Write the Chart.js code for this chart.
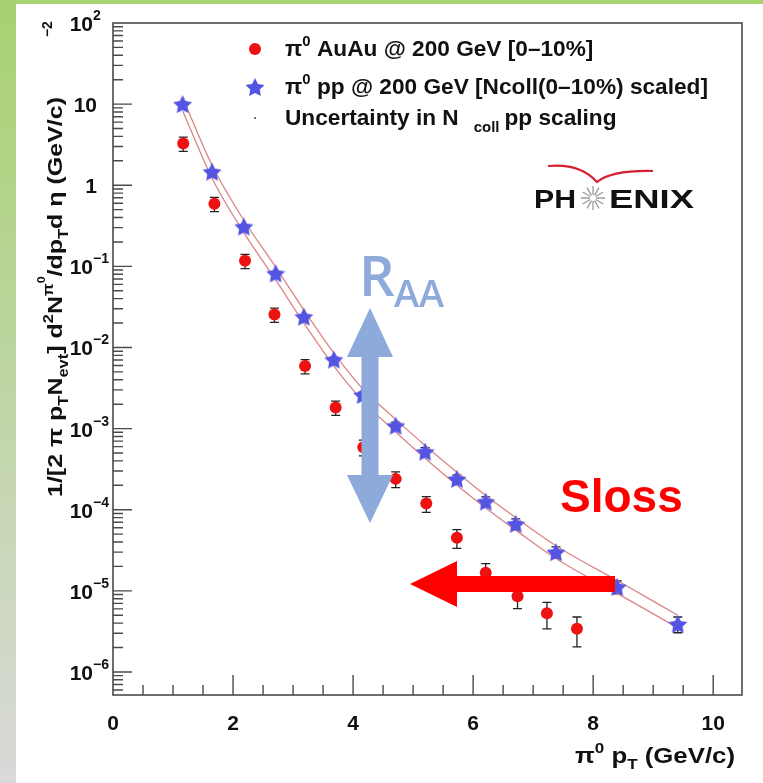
<!DOCTYPE html>
<html lang="en">
<head>
<meta charset="UTF-8">
<title>PHENIX pi0 spectra AuAu vs pp</title>
<script src="https://cdn.jsdelivr.net/npm/chart.js"></script>
<style>
  html, body { margin: 0; padding: 0; background: #fff; }
  canvas { display: block; }
</style>
</head>
<body>
<canvas id="spectrum" width="763" height="783"></canvas>
<script>
// pi0 AuAu @ 200 GeV, 0-10% central
const ptAuAu    = [1.17, 1.69, 2.2, 2.69, 3.2, 3.71, 4.17, 4.71, 5.22, 5.73, 6.21, 6.74, 7.23, 7.73];
const yieldAuAu = [3.27, 0.59, 0.117, 0.0255, 0.0059, 0.00182, 5.9e-4, 2.4e-4, 1.19e-4, 4.5e-5, 1.67e-5, 8.6e-6, 5.3e-6, 3.4e-6];
const errAuAu   = [0.2, 0.2, 0.2, 0.2, 0.2, 0.2, 0.22, 0.22, 0.22, 0.26, 0.3, 0.3, 0.36, 0.4];

// pi0 pp @ 200 GeV scaled by Ncoll(0-10%)
const ptPP    = [1.16, 1.65, 2.18, 2.71, 3.18, 3.68, 4.16, 4.71, 5.2, 5.73, 6.21, 6.71, 7.38, 8.4, 9.41];
const yieldPP = [10, 1.47, 0.31, 0.082, 0.024, 0.0071, 0.0026, 0.00109, 5.2e-4, 2.4e-4, 1.26e-4, 6.7e-5, 3.0e-5, 1.12e-5, 3.9e-6];
const errPP   = [0.05, 0.05, 0.05, 0.05, 0.05, 0.06, 0.08, 0.1, 0.12, 0.12, 0.14, 0.15, 0.16, 0.18, 0.22];

// Ncoll scaling uncertainty band
const bandHigh = [12.0, 1.76, 0.37, 0.098, 0.029, 0.0085, 0.0031, 0.0013, 6.2e-4, 2.9e-4, 1.5e-4, 8.0e-5, 3.6e-5, 1.34e-5, 5.0e-6];
const bandLow  = [8.3, 1.22, 0.26, 0.068, 0.020, 0.0059, 0.0022, 9.1e-4, 4.3e-4, 2.0e-4, 1.05e-4, 5.6e-5, 2.5e-5, 9.3e-6, 3.5e-6];

// axis ticks
const xTickValues = [0, 2, 4, 6, 8, 10];
const xTickLabels = ['0', '2', '4', '6', '8', '10'];
const yTickValues = [1e-6, 1e-5, 1e-4, 1e-3, 1e-2, 1e-1, 1, 10, 100];
const yTickBases  = ['10', '10', '10', '10', '10', '10', '1', '10', '10'];
const yTickExps   = ['\u22126', '\u22125', '\u22124', '\u22123', '\u22122', '\u22121', '', '', '2'];

const FONT = '"Liberation Sans", Arial, sans-serif';

function makeStar(r, color) {
  const c = document.createElement('canvas');
  const s = Math.ceil(r * 2) + 2;
  c.width = s; c.height = s;
  const g = c.getContext('2d');
  g.fillStyle = color;
  g.beginPath();
  for (let i = 0; i < 10; i++) {
    const rad = i % 2 === 0 ? r : r * 0.5;
    const ang = -Math.PI / 2 + i * Math.PI / 5;
    const px = s / 2 + rad * Math.cos(ang), py = s / 2 + 1 + rad * Math.sin(ang);
    if (i === 0) g.moveTo(px, py); else g.lineTo(px, py);
  }
  g.closePath();
  g.fill();
  return c;
}
const starImg = makeStar(10, '#5454e4');

// rich text: k = n (normal), sup, sub, sup2 (superscript of superscript)
function segFont(k, size) {
  const fs = k === 'sup2' ? size * 0.5 : (k && k !== 'n') ? size * 0.66 : size;
  return 'bold ' + fs.toFixed(2) + 'px ' + FONT;
}
function segShift(k, size) {
  if (k === 'sup') return -size * 0.45;
  if (k === 'sup2') return -size * 0.8;
  if (k === 'sub') return size * 0.3;
  return 0;
}
function richWidth(ctx, segs, size) {
  let w = 0;
  for (const s of segs) {
    if (s.gap) { w += s.gap; continue; }
    ctx.font = segFont(s.k, size);
    w += ctx.measureText(s.t).width;
  }
  return w;
}
function drawRich(ctx, x, y, segs, size) {
  ctx.textAlign = 'left';
  ctx.textBaseline = 'alphabetic';
  for (const s of segs) {
    if (s.gap) { x += s.gap; continue; }
    ctx.font = segFont(s.k, size);
    ctx.fillText(s.t, x, y + segShift(s.k, size));
    x += ctx.measureText(s.t).width;
  }
  return x;
}
// draw at a fixed font size, stretched along the baseline to a given length
function drawStretched(ctx, x, y, segs, size, length) {
  const sx = length / richWidth(ctx, segs, size);
  ctx.save();
  ctx.translate(x, y);
  ctx.scale(sx, 1);
  drawRich(ctx, 0, 0, segs, size);
  ctx.restore();
}
function fitSize(ctx, segs, width) {
  return 20 * width / richWidth(ctx, segs, 20);
}

const legendRows = [
  [{t: 'π'}, {t: '0', k: 'sup'}, {t: ' AuAu @ 200 GeV [0–10%]'}],
  [{t: 'π'}, {t: '0', k: 'sup'}, {t: ' pp @ 200 GeV [Ncoll(0–10%) scaled]'}],
  [{t: 'Uncertainty in N'}, {gap: 15}, {t: 'coll', k: 'sub'}, {gap: 5}, {t: 'pp scaling'}]
];
const yTitle = [
  {t: '1/[2 π p'}, {t: 'T', k: 'sub'}, {t: 'N'}, {t: 'evt', k: 'sub'}, {t: '] d'}, {t: '2', k: 'sup'},
  {t: 'N'}, {t: 'π', k: 'sup'}, {t: '0', k: 'sup2'}, {t: '/dp'}, {t: 'T', k: 'sub'}, {t: 'd η (GeV/c)'}
];
const xTitle = [{t: 'π'}, {t: '0', k: 'sup'}, {t: ' p'}, {t: 'T', k: 'sub'}, {t: ' (GeV/c)'}];

function errorBars(ctx, xs, ys, errs, xScale, yScale) {
  ctx.strokeStyle = '#222';
  ctx.lineWidth = 1.3;
  for (let i = 0; i < xs.length; i++) {
    const px = xScale.getPixelForValue(xs[i]);
    const top = yScale.getPixelForValue(ys[i] * (1 + errs[i]));
    const bot = yScale.getPixelForValue(ys[i] * (1 - errs[i]));
    ctx.beginPath();
    ctx.moveTo(px, top); ctx.lineTo(px, bot);
    ctx.moveTo(px - 4.5, top); ctx.lineTo(px + 4.5, top);
    ctx.moveTo(px - 4.5, bot); ctx.lineTo(px + 4.5, bot);
    ctx.stroke();
  }
}

const rootStyle = {
  id: 'rootStyle',
  beforeDraw(chart) {
    const ctx = chart.ctx;
    const W = chart.width, H = chart.height;
    ctx.save();
    ctx.fillStyle = '#a6d270';
    ctx.fillRect(0, 0, W, 4);
    const g = ctx.createLinearGradient(0, 0, 0, H);
    g.addColorStop(0, '#a6d270');
    g.addColorStop(1, '#d9d9d9');
    ctx.fillStyle = g;
    ctx.fillRect(0, 0, 16, H);
    ctx.fillStyle = '#ffffff';
    ctx.fillRect(16, 4, W - 16, H - 4);
    ctx.restore();
  },
  beforeDatasetsDraw(chart) {
    const {ctx, scales: {x, y}} = chart;
    ctx.save();
    errorBars(ctx, ptPP, yieldPP, errPP, x, y);
    errorBars(ctx, ptAuAu, yieldAuAu, errAuAu, x, y);
    ctx.restore();
  },
  afterDatasetsDraw(chart) {
    const {ctx, chartArea: a, scales: {x, y}} = chart;
    ctx.save();

    // frame
    ctx.strokeStyle = '#4a4a4a';
    ctx.lineWidth = 1.6;
    ctx.strokeRect(a.left, a.top, a.right - a.left, a.bottom - a.top);

    // x ticks (inside, pointing up)
    ctx.lineWidth = 1.4;
    ctx.beginPath();
    for (let v = 0.5; v < x.max; v += 0.5) {
      const px = x.getPixelForValue(v);
      const len = xTickValues.includes(v) ? 20 : 10;
      ctx.moveTo(px, a.bottom); ctx.lineTo(px, a.bottom - len);
    }
    // y ticks (inside, pointing right)
    for (let e = -7; e <= 1; e++) {
      for (let m = 1; m <= 9; m++) {
        const v = m * Math.pow(10, e);
        if (v < y.min || v > y.max) continue;
        const py = y.getPixelForValue(v);
        const len = m === 1 ? 19 : 10;
        ctx.moveTo(a.left, py); ctx.lineTo(a.left + len, py);
      }
    }
    ctx.stroke();

    // tick labels
    ctx.fillStyle = '#111';
    ctx.textBaseline = 'alphabetic';
    ctx.font = 'bold 21px ' + FONT;
    ctx.textAlign = 'center';
    xTickValues.forEach((v, i) => {
      ctx.fillText(xTickLabels[i], x.getPixelForValue(v), a.bottom + 35);
    });
    yTickValues.forEach((v, i) => {
      const py = y.getPixelForValue(v);
      ctx.font = 'bold 21px ' + FONT;
      if (yTickExps[i]) {
        ctx.textAlign = 'right';
        ctx.fillText(yTickBases[i], 93, py + 8);
        ctx.textAlign = 'left';
        ctx.font = 'bold 14px ' + FONT;
        ctx.fillText(yTickExps[i], 93, py - 3);
      } else {
        ctx.textAlign = 'right';
        ctx.fillText(yTickBases[i], 97, py + 8);
      }
    });

    // axis titles
    drawStretched(ctx, 575, 763, xTitle, 21.5, 160);

    ctx.save();
    ctx.translate(62, 497);
    ctx.rotate(-Math.PI / 2);
    drawStretched(ctx, 0, 0, yTitle, 21, 400);
    drawRich(ctx, 460, -1, [{t: '\u22122', k: 'sup'}], 21);
    ctx.restore();

    // legend
    const ls = fitSize(ctx, legendRows[1], 423);
    const rowY = [49, 87, 118];
    ctx.fillStyle = '#ee1111';
    ctx.beginPath(); ctx.arc(255, rowY[0], 6, 0, Math.PI * 2); ctx.fill();
    ctx.drawImage(starImg, 255 - starImg.width / 2, rowY[1] - starImg.height / 2);
    ctx.fillStyle = '#777';
    ctx.fillRect(254, rowY[2] - 1, 2, 2);
    ctx.fillStyle = '#111';
    legendRows.forEach((r, i) => drawRich(ctx, 285, rowY[i] + 7, r, ls));

    // PHENIX logo
    ctx.strokeStyle = '#d42030';
    ctx.lineWidth = 2.2;
    ctx.beginPath();
    ctx.moveTo(548, 166);
    ctx.quadraticCurveTo(580, 163, 597, 182);
    ctx.quadraticCurveTo(612, 170, 653, 171);
    ctx.stroke();
    ctx.fillStyle = '#111';
    ctx.textAlign = 'left';
    const wide = (txt, x0, width, base) => {
      ctx.font = 'bold 26px ' + FONT;
      const w = ctx.measureText(txt).width;
      ctx.save();
      ctx.translate(x0, base);
      ctx.scale(width / w, 1);
      ctx.fillText(txt, 0, 0);
      ctx.restore();
    };
    wide('PH', 534, 42, 208);
    wide('ENIX', 609, 85, 208);
    ctx.strokeStyle = '#9a9a9a';
    ctx.lineWidth = 1.3;
    ctx.beginPath();
    for (let k = 0; k < 12; k++) {
      const ang = k * Math.PI / 6;
      ctx.moveTo(593 + 3 * Math.cos(ang), 198 + 3 * Math.sin(ang));
      ctx.lineTo(593 + 12 * Math.cos(ang), 198 + 12 * Math.sin(ang));
    }
    ctx.stroke();

    // R_AA annotation
    ctx.fillStyle = '#8eaadb';
    ctx.font = '600 56px "Open Sans", "Noto Sans", sans-serif';
    ctx.fillText('R', 359, 296);
    ctx.font = '600 38px "Open Sans", "Noto Sans", sans-serif';
    ctx.fillText('AA', 394, 307);
    ctx.beginPath();
    ctx.moveTo(370, 308);
    ctx.lineTo(393, 357); ctx.lineTo(378.5, 357); ctx.lineTo(378.5, 475);
    ctx.lineTo(393, 475); ctx.lineTo(370, 523); ctx.lineTo(347, 475);
    ctx.lineTo(361.5, 475); ctx.lineTo(361.5, 357); ctx.lineTo(347, 357);
    ctx.closePath();
    ctx.fill();

    // Sloss annotation
    ctx.fillStyle = '#ff0000';
    ctx.font = 'bold 46px ' + FONT;
    ctx.fillText('Sloss', 560, 512);
    ctx.beginPath();
    ctx.moveTo(410, 584);
    ctx.lineTo(457, 561); ctx.lineTo(457, 576); ctx.lineTo(615, 576);
    ctx.lineTo(615, 592); ctx.lineTo(457, 592); ctx.lineTo(457, 607);
    ctx.closePath();
    ctx.fill();

    ctx.restore();
  }
};

const canvas = document.getElementById('spectrum');
new Chart(canvas.getContext('2d'), {
  type: 'scatter',
  data: {
    datasets: [
      {
        label: 'π0 AuAu @ 200 GeV [0-10%]',
        data: ptAuAu.map((v, i) => ({x: v, y: yieldAuAu[i]})),
        pointStyle: 'circle',
        pointRadius: 6,
        backgroundColor: '#ee1111',
        borderWidth: 0,
        order: 0
      },
      {
        label: 'π0 pp @ 200 GeV [Ncoll(0-10%) scaled]',
        data: ptPP.map((v, i) => ({x: v, y: yieldPP[i]})),
        pointStyle: starImg,
        pointRadius: 9,
        order: 1
      },
      {
        type: 'line',
        label: 'band high',
        data: ptPP.map((v, i) => ({x: v, y: bandHigh[i]})),
        showLine: true,
        borderColor: '#dc8585',
        borderWidth: 1.3,
        pointRadius: 0,
        fill: false,
        cubicInterpolationMode: 'monotone',
        order: 2
      },
      {
        type: 'line',
        label: 'band low',
        data: ptPP.map((v, i) => ({x: v, y: bandLow[i]})),
        showLine: true,
        borderColor: '#dc8585',
        borderWidth: 1.3,
        pointRadius: 0,
        fill: false,
        cubicInterpolationMode: 'monotone',
        order: 2
      }
    ]
  },
  options: {
    responsive: false,
    animation: false,
    events: [],
    layout: {padding: {left: 113, right: 21, top: 23, bottom: 88}},
    scales: {
      x: {type: 'linear', min: 0, max: 10.48, display: false},
      y: {type: 'logarithmic', min: 5.2e-7, max: 100, display: false}
    },
    plugins: {
      legend: {display: false},
      tooltip: {enabled: false}
    }
  },
  plugins: [rootStyle]
});
</script>
</body>
</html>
